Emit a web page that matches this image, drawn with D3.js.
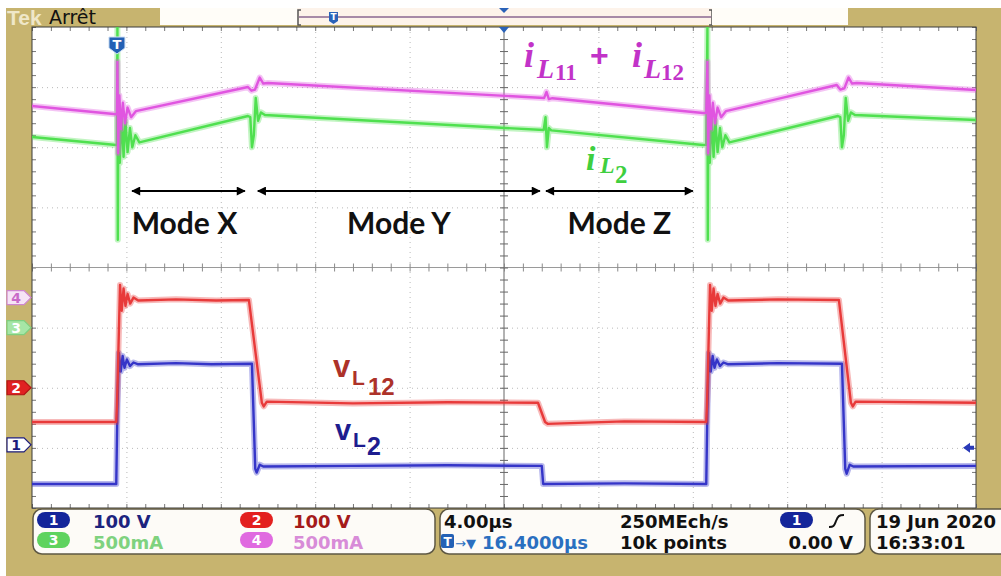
<!DOCTYPE html>
<html><head><meta charset="utf-8">
<script src="https://cdn.jsdelivr.net/npm/d3@7"></script>
<style>
body{margin:0;background:#fff;}
svg{display:block;}
</style></head><body>
<svg id="c" width="1001" height="576"></svg>
<script>
// ---------- DATA ----------
// time in µs relative to trigger, 4 µs/div, trigger 16.4 µs left of centre
const timeDomain = [-3.6, 36.4];
const divDomain = [-4, 4];
const channelNames = ["1", "2", "3", "4"];
const channelPerDiv = [100, 100, 0.5, 0.5];        // V/div, V/div, A/div, A/div
const channelOffsetDiv = [-2.95, -2, -1, -0.5];
const channelColors = ["#3535c8", "#e83a3a", "#4fe04f", "#e055e0"];
const channelScaleLabels = ["100 V", "100 V", "500mA", "500mA"];

// ch1 : v_L2 (V)
const ch1Volts = [[-3.6,-65],[-0.03,-65],[0.02,60],[0.08,153],[0.16,122],[0.24,148],[0.32,128],[0.42,142],[0.55,131],[0.7,137],[0.9,134],[2.5,136],[4.0,134],[5.72,135],[5.86,-40],[5.92,-46],[6.05,-33],[6.2,-36],[10,-35],[14,-34],[18.0,-35],[18.06,-65],[21.5,-64],[24.97,-65],[25.02,60],[25.08,153],[25.16,122],[25.24,148],[25.32,128],[25.42,142],[25.55,131],[25.7,137],[25.9,134],[28,136],[30.72,135],[30.86,-40],[30.92,-48],[31.05,-33],[31.2,-36],[36.4,-35]];
// ch2 : v_L12 (V)
const ch2Volts = [[-3.6,-57],[-0.03,-57],[0.0,-30],[0.06,60],[0.13,171],[0.2,128],[0.28,165],[0.36,136],[0.45,156],[0.56,140],[0.7,150],[0.9,145],[2.5,147],[4.2,145],[5.59,146],[6.14,-25],[6.22,-31],[6.35,-23],[10,-26],[14,-24],[17.84,-25],[18.14,-57],[18.25,-60],[21.5,-56],[24.97,-57],[25.0,-30],[25.06,60],[25.13,171],[25.2,128],[25.28,165],[25.36,136],[25.45,156],[25.56,140],[25.7,150],[25.9,145],[28,147],[30.59,146],[31.1,-25],[31.18,-31],[31.3,-23],[36.4,-25]];
// ch3 : i_L2 (A)
const ch3Amps = [[-3.6,1.585],[-0.03,1.519],[0.0,1.52],[0.02,2.5],[0.035,0.73],[0.06,1.84],[0.12,1.37],[0.2,1.78],[0.28,1.42],[0.36,1.72],[0.45,1.46],[0.55,1.66],[0.65,1.50],[0.78,1.60],[0.95,1.54],[5.55,1.76],[5.65,1.75],[5.72,1.50],[5.8,1.60],[5.88,1.91],[5.98,1.72],[6.1,1.79],[6.27,1.768],[18.08,1.643],[18.16,1.75],[18.22,1.50],[18.3,1.66],[18.4,1.64],[24.83,1.519],[24.97,1.52],[25.02,2.5],[25.035,0.73],[25.06,1.84],[25.12,1.37],[25.2,1.78],[25.28,1.42],[25.36,1.72],[25.45,1.46],[25.55,1.66],[25.65,1.50],[25.78,1.60],[25.95,1.54],[30.55,1.76],[30.65,1.75],[30.72,1.50],[30.8,1.60],[30.88,1.91],[30.98,1.72],[31.1,1.79],[31.27,1.768],[36.4,1.727]];
// ch4 : i_L11 + i_L12 (A)
const ch4Amps = [[-3.6,1.593],[-0.03,1.525],[0.0,1.53],[0.02,1.96],[0.05,1.20],[0.1,1.68],[0.17,1.40],[0.25,1.62],[0.34,1.45],[0.45,1.58],[0.6,1.50],[0.8,1.55],[5.55,1.751],[5.7,1.72],[5.85,1.73],[6.05,1.83],[6.2,1.78],[6.4,1.784],[18.1,1.660],[18.2,1.71],[18.3,1.65],[18.45,1.658],[24.83,1.535],[24.97,1.535],[25.02,1.96],[25.05,1.20],[25.1,1.68],[25.17,1.40],[25.25,1.62],[25.34,1.45],[25.45,1.58],[25.6,1.50],[25.8,1.55],[30.5,1.768],[30.65,1.73],[30.82,1.74],[31.0,1.83],[31.15,1.78],[31.35,1.784],[36.4,1.726]];

// operating modes (µs)
const modeNames = ["Mode X", "Mode Y", "Mode Z"];
const modeStart = [0.64, 5.97, 18.18];
const modeEnd = [5.42, 17.92, 24.4];

// status read-outs
const timebaseLabel = "4.00µs";
const triggerPosLabel = "16.4000µs";
const sampleRateLabel = "250MEch/s";
const recordLabel = "10k points";
const triggerLevelLabel = "0.00 V";
const dateLabel = "19 Jun 2020";
const timeLabel = "16:33:01";

// ---------- LAYOUT ----------
const svg = d3.select("#c");
const P = {l: 32, r: 976, t: 27, b: 508};
const x = d3.scaleLinear().domain(timeDomain).range([P.l, P.r]);
const yDiv = d3.scaleLinear().domain(divDomain).range([P.b, P.t]);
const chY = i => v => yDiv(v / channelPerDiv[i] + channelOffsetDiv[i]);
const TAN = "#c7b46f";

svg.append("rect").attr("width", 1001).attr("height", 576).attr("fill", "#fff");
svg.append("rect").attr("x", 6).attr("y", 8).attr("width", 995).attr("height", 568).attr("fill", TAN);

// top bar
svg.append("text").attr("x", 7).attr("y", 25).attr("font-family", "Liberation Sans").attr("font-weight", "bold")
  .attr("font-size", 21).attr("fill", "#efe7c9").text("Tek");
svg.append("text").attr("x", 49).attr("y", 24).attr("font-family", "DejaVu Sans")
  .attr("font-size", 19).attr("fill", "#111").text("Arrêt");
svg.append("rect").attr("x", 160).attr("y", 8).attr("width", 137).attr("height", 17).attr("fill", "#fffdf8");
svg.append("rect").attr("x", 297).attr("y", 8).attr("width", 415).attr("height", 17).attr("fill", "#fdf3ea");
svg.append("line").attr("x1", 299).attr("x2", 711).attr("y1", 17).attr("y2", 17).attr("stroke", "#a78aa7").attr("stroke-width", 2);
svg.append("path").attr("d", "M301,10 H298 V25 H301 M709,10 H712 V25 H709").attr("fill", "none").attr("stroke", "#555").attr("stroke-width", 1.5);
svg.append("rect").attr("x", 712).attr("y", 8).attr("width", 136).attr("height", 17).attr("fill", "#fffdf8");
svg.append("path").attr("d", "M329,12 h9 v9 l-4.5,3 l-4.5,-3 z").attr("fill", "#2a62b8");
svg.append("text").attr("x", 333.5).attr("y", 20).attr("text-anchor", "middle").attr("font-family", "DejaVu Sans").attr("font-weight", "bold").attr("font-size", 9).attr("fill", "#fff").text("T");
svg.append("path").attr("d", `M${x(16.4)-5},8 h10 l-5,5 z`).attr("fill", "#2a62b8");

// plot area
svg.append("rect").attr("x", P.l).attr("y", P.t).attr("width", P.r - P.l).attr("height", P.b - P.t).attr("fill", "#fff");

const gridTimes = d3.range(1, 10).filter(k => k !== 5).map(k => timeDomain[0] + 4 * k);
const gridDivs = d3.range(-3, 4).filter(k => k !== 0);
const minorTimes = d3.range(0, 51).map(k => timeDomain[0] + 0.8 * k);
const minorDivs = d3.range(0, 41).map(k => -4 + 0.2 * k);

const g = svg.append("g");
const gx = g.append("g").attr("transform", `translate(0,${P.b})`)
  .call(d3.axisBottom(x).tickValues(gridTimes).tickSize(-(P.b - P.t)).tickFormat(""));
const gy = g.append("g").attr("transform", `translate(${P.l},0)`)
  .call(d3.axisLeft(yDiv).tickValues(gridDivs).tickSize(-(P.r - P.l)).tickFormat(""));
[gx, gy].forEach(a => { a.select(".domain").remove(); a.selectAll("line").attr("stroke", "#b9b9b9").attr("stroke-dasharray", "1,4"); });

// minor ticks along the border
function ticks(axis, tr, col) {
  const a = g.append("g").attr("transform", tr).call(axis);
  a.select(".domain").remove();
  a.selectAll("line").attr("stroke", col || "#777");
}
ticks(d3.axisTop(x).tickValues(minorTimes).tickSize(-4).tickFormat(""), `translate(0,${P.t})`);
ticks(d3.axisBottom(x).tickValues(minorTimes).tickSize(-4).tickFormat(""), `translate(0,${P.b})`);
ticks(d3.axisLeft(yDiv).tickValues(minorDivs).tickSize(-4).tickFormat(""), `translate(${P.l},0)`);
ticks(d3.axisRight(yDiv).tickValues(minorDivs).tickSize(-4).tickFormat(""), `translate(${P.r},0)`);
// centre cross
g.append("line").attr("x1", P.l).attr("x2", P.r).attr("y1", yDiv(0)).attr("y2", yDiv(0)).attr("stroke", "#9a9a9a");
g.append("line").attr("x1", x(16.4)).attr("x2", x(16.4)).attr("y1", P.t).attr("y2", P.b).attr("stroke", "#666");
ticks(d3.axisBottom(x).tickValues(minorTimes).tickSize(8).tickFormat(""), `translate(0,${yDiv(0) - 4})`, "#8a8a8a");
ticks(d3.axisRight(yDiv).tickValues(minorDivs).tickSize(8).tickFormat(""), `translate(${x(16.4) - 4},0)`, "#666");
svg.append("rect").attr("x", P.l).attr("y", P.t).attr("width", P.r - P.l).attr("height", P.b - P.t)
  .attr("fill", "none").attr("stroke", "#3a3a3a").attr("stroke-width", 1);

// traces
svg.append("clipPath").attr("id", "clip").append("rect").attr("x", P.l).attr("y", P.t).attr("width", P.r - P.l).attr("height", P.b - P.t);
const traces = svg.append("g").attr("clip-path", "url(#clip)");
const series = [ch1Volts, ch2Volts, ch3Amps, ch4Amps];
series.forEach((data, i) => {
  const line = d3.line().x(d => x(d[0])).y(d => chY(i)(d[1]));
  traces.append("path").attr("d", line(data)).attr("fill", "none").attr("stroke", channelColors[i])
    .attr("stroke-width", 6).attr("stroke-opacity", 0.35).attr("stroke-linejoin", "round");
  traces.append("path").attr("d", line(data)).attr("fill", "none").attr("stroke", channelColors[i])
    .attr("stroke-width", 2.4).attr("stroke-linejoin", "round");
});

// trigger marker in plot
const tx = x(0);
svg.append("path").attr("d", `M${tx-8},37 h16 v11 l-8,6 l-8,-6 z`).attr("fill", "#2361b5").attr("stroke", "#cfe0f5").attr("stroke-width", 1);
svg.append("text").attr("x", tx).attr("y", 49).attr("text-anchor", "middle").attr("font-family", "DejaVu Sans").attr("font-weight", "bold").attr("font-size", 13).attr("fill", "#fff").text("T");
svg.append("path").attr("d", `M${x(16.4)-5},${P.t} h10 l-5,6 z`).attr("fill", "#2a62b8");
// ch1 offset arrow at right
svg.append("path").attr("d", `M963,${chY(0)(0)+3} l7,-5 v3 h4 v4 h-4 v3 z`).attr("fill", "#2a3ab8");

// channel ground markers
const markerFill = ["#ffffff", "#e02222", "#a6e6a6", "#f6e4f6"];
const markerStroke = ["#1c1c7c", "#b01515", "#7fcf7f", "#cf86cf"];
const markerText = ["#1c1c7c", "#ffffff", "#ffffff", "#c86ac8"];
channelNames.forEach((n, i) => {
  const yy = yDiv(channelOffsetDiv[i]);
  svg.append("path").attr("d", `M7,${yy-7} H24 L31,${yy} L24,${yy+7} H7 Z`).attr("fill", markerFill[i]).attr("stroke", markerStroke[i]).attr("stroke-width", 1.2);
  svg.append("text").attr("x", 16).attr("y", yy + 5.5).attr("text-anchor", "middle").attr("font-family", "DejaVu Sans").attr("font-weight", "bold")
    .attr("font-size", 14).attr("fill", markerText[i]).text(n);
});

// mode arrows
const defs = svg.append("defs");
defs.append("marker").attr("id", "ah").attr("viewBox", "0 0 10 10").attr("refX", 9).attr("refY", 5)
  .attr("markerWidth", 5).attr("markerHeight", 4.5).attr("orient", "auto-start-reverse").attr("markerUnits", "strokeWidth")
  .append("path").attr("d", "M0,0 L10,5 L0,10 z").attr("fill", "#000");
const arrowY = yDiv(1.272), modeTextY = yDiv(0.557);
modeNames.forEach((m, i) => {
  svg.append("line").attr("x1", x(modeStart[i])).attr("x2", x(modeEnd[i])).attr("y1", arrowY).attr("y2", arrowY)
    .attr("stroke", "#000").attr("stroke-width", 2).attr("marker-start", "url(#ah)").attr("marker-end", "url(#ah)");
  svg.append("text").attr("x", (x(modeStart[i]) + x(modeEnd[i])) / 2 - (i === 0 ? 4 : 0)).attr("y", modeTextY)
    .attr("text-anchor", "middle").attr("font-family", "Lato").attr("font-weight", 700).attr("font-size", 30).attr("fill", "#111").text(m);
});

// math labels
function piece(t, xx, yy, size, fam, col, italic) {
  svg.append("text").attr("x", xx).attr("y", yy).attr("font-family", fam).attr("font-weight", "bold")
    .attr("font-style", italic ? "italic" : "normal").attr("font-size", size).attr("fill", col).text(t);
}
const serif = "Liberation Serif", MAG = "#c233c8", GRN = "#3fcf3f";
piece("i", 524, 67, 36, serif, MAG, true);
piece("L", 537, 78, 28, serif, MAG, true);
piece("11", 555, 80, 23, serif, MAG, false);
piece("+", 590, 66, 32, "Liberation Sans", MAG, false);
piece("i", 632, 67, 36, serif, MAG, true);
piece("L", 644, 78, 28, serif, MAG, true);
piece("12", 661, 80, 23, serif, MAG, false);
piece("i", 586, 170, 34, serif, GRN, true);
piece("L", 600, 173, 24, serif, GRN, true);
piece("2", 615, 183, 25, serif, GRN, false);
const sans = "Liberation Sans", RED = "#ad3229", NAV = "#1d1d8f";
piece("v", 333, 377, 31, sans, RED, false);
piece("L", 352, 385, 21, sans, RED, false);
piece("12", 368, 395, 24, sans, RED, false);
piece("v", 335, 440, 29, sans, NAV, false);
piece("L", 353, 447, 21, sans, NAV, false);
piece("2", 367, 455, 25, sans, NAV, false);

// ---------- STATUS PANEL ----------
const box = (xx, w) => svg.append("rect").attr("x", xx).attr("y", 509).attr("width", w).attr("height", 45).attr("rx", 9)
  .attr("fill", "#fdfbf7").attr("stroke", "#5e5844").attr("stroke-width", 1.5);
box(33, 402); box(440, 425); box(870, 150);
const pill = (xx, yy, fill, n) => {
  svg.append("rect").attr("x", xx).attr("y", yy).attr("width", 33).attr("height", 16).attr("rx", 8).attr("fill", fill);
  svg.append("text").attr("x", xx + 16.5).attr("y", yy + 13).attr("text-anchor", "middle").attr("font-family", "DejaVu Sans")
    .attr("font-weight", "bold").attr("font-size", 14).attr("fill", "#fff").text(n);
};
const pillFill = ["#14259a", "#e3201f", "#5fd35f", "#e06ae0"];
const scaleTextCol = ["#1c237e", "#a51a1a", "#7fd27f", "#d88cd8"];
const pillX = [37, 240, 37, 240], rowY = [512, 532], textX = [93, 293], baseY = [528, 549];
channelNames.forEach((n, i) => {
  const r = i < 2 ? 0 : 1, c = i % 2;
  pill(pillX[i], rowY[r], pillFill[i], n);
  svg.append("text").attr("x", textX[c]).attr("y", baseY[r]).attr("font-family", "DejaVu Sans").attr("font-weight", "bold")
    .attr("font-size", 18).attr("fill", scaleTextCol[i]).text(channelScaleLabels[i]);
});
const st = (t, xx, yy, col, anchor) => svg.append("text").attr("x", xx).attr("y", yy).attr("text-anchor", anchor || "start")
  .attr("font-family", "DejaVu Sans").attr("font-weight", "bold").attr("font-size", 18).attr("fill", col).text(t);
st(timebaseLabel, 444, 528, "#111");
svg.append("rect").attr("x", 441).attr("y", 534).attr("width", 13).attr("height", 14).attr("rx", 2).attr("fill", "#2361b5");
svg.append("text").attr("x", 447.5).attr("y", 546).attr("text-anchor", "middle").attr("font-family", "DejaVu Sans").attr("font-weight", "bold").attr("font-size", 12).attr("fill", "#fff").text("T");
svg.append("text").attr("x", 455).attr("y", 548).attr("font-family", "DejaVu Sans").attr("font-size", 13).attr("fill", "#2a6fc0").text("→▼");
st(triggerPosLabel, 482, 549, "#2a6fc0");
st(sampleRateLabel, 620, 528, "#111");
st(recordLabel, 620, 549, "#111");
pill(780, 512, "#14259a", "1");
svg.append("path").attr("d", "M829,527 C834,527 834,526 836,521 S839,515 844,515").attr("fill", "none").attr("stroke", "#111").attr("stroke-width", 2);
st(triggerLevelLabel, 853, 549, "#111", "end");
st(dateLabel, 876, 528, "#111");
st(timeLabel, 876, 549, "#111");
</script>
</body></html>
